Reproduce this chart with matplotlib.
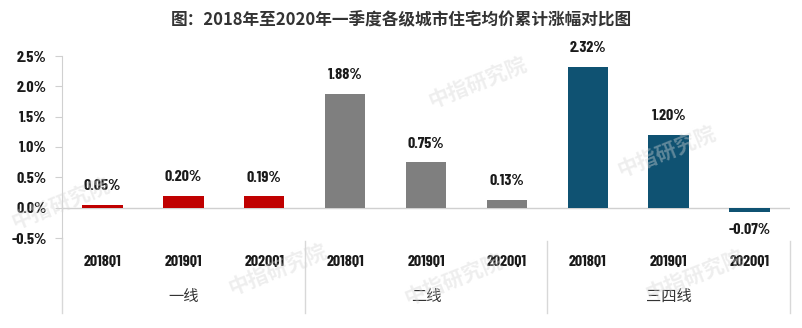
import matplotlib.pyplot as plt
import numpy as np

plt.rcParams['font.family'] = ['Noto Sans CJK SC', 'DejaVu Sans']

quarters = ['2018Q1', '2019Q1', '2020Q1']
tiers = ['一线', '二线', '三四线']
tier_colors = ['#C00000', '#7F7F7F', '#0F5272']
growth = [
    [0.05, 0.20, 0.19],
    [1.88, 0.75, 0.13],
    [2.32, 1.20, -0.07],
]
yticks = [-0.5, 0.0, 0.5, 1.0, 1.5, 2.0, 2.5]
title = '图：2018年至2020年一季度各级城市住宅均价累计涨幅对比图'
watermark = '中指研究院'

num_font = dict(family=['Barlow Condensed', 'DejaVu Sans'], fontweight='bold')

fig = plt.figure(figsize=(8.02, 3.28), dpi=100)
ax = fig.add_axes([62 / 802, 1 - 238 / 328, 728 / 802, 182 / 328])

n = len(quarters)
for g, (vals, color) in enumerate(zip(growth, tier_colors)):
    x = np.arange(n) + g * n
    ax.bar(x, vals, width=0.5, color=color, zorder=2)
    for xi, v in zip(x, vals):
        if v >= 0:
            ax.text(xi, v + 0.19, '%.2f%%' % v, ha='center', va='bottom',
                    fontsize=11.5, color='#1a1a1a', **num_font)
        else:
            ax.text(xi, v - 0.19, '%.2f%%' % v, ha='center', va='top',
                    fontsize=11.5, color='#1a1a1a', **num_font)
    for xi, q in zip(x, quarters):
        ax.text(xi, -0.9, q, ha='center', va='center',
                fontsize=11.5, color='#1a1a1a', **num_font)
    ax.text(x[1], -1.47, tiers[g], ha='center', va='center',
            fontsize=11, color='#333333', fontweight='light')

total = n * len(tiers)
ax.set_xlim(-0.5, total - 0.5)
ax.set_ylim(-0.5, 2.5)
ax.set_yticks(yticks)
ax.set_yticklabels(['%.1f%%' % t for t in yticks], fontsize=11.5,
                   color='#1a1a1a', **num_font)
ax.set_xticks([])
ax.axhline(0, color='#d0d0d0', lw=1, zorder=1)

for s in ['top', 'right', 'bottom']:
    ax.spines[s].set_visible(False)
ax.spines['left'].set_color('#d0d0d0')
ax.tick_params(axis='y', length=5, color='#d0d0d0', pad=6)

# group separators below the plotting area
for b in range(len(tiers) + 1):
    xb = b * n - 0.5
    ax.plot([xb, xb], [-0.55 if b > 0 else -0.5, -1.74], color='#d8d8d8',
            lw=1, clip_on=False)

# faint watermarks
for (wx, wy) in [(0.01, 0.29), (0.53, 0.66), (0.765, 0.45), (0.5, 0.06),
                 (0.80, 0.07), (0.28, 0.09)]:
    fig.text(wx, wy, watermark, fontsize=15, fontweight='bold', color='#d6d6d6',
             alpha=0.4, rotation=22, ha='left', va='bottom', zorder=5)

fig.text(0.5, 1 - 20 / 328, title, ha='center', va='center', fontsize=12,
         fontweight='bold', color='#333333')

fig.savefig('out.png', dpi=100, facecolor='white')
